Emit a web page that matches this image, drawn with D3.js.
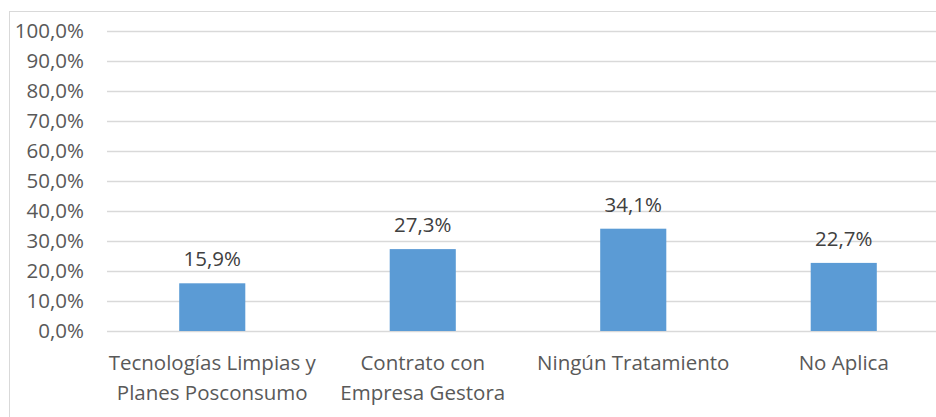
<!DOCTYPE html>
<html>
<head>
<meta charset="utf-8">
<script src="https://cdn.jsdelivr.net/npm/d3@7"></script>
<style>
  body { margin: 0; background: #fff; }
  svg { display: block; font-family: "Open Sans", sans-serif; }
</style>
</head>
<body>
<script>
// chart data
var categories = [
  ["Tecnologías Limpias y", "Planes Posconsumo"],
  ["Contrato con", "Empresa Gestora"],
  ["Ningún Tratamiento"],
  ["No Aplica"]
];
var values = [15.9, 27.3, 34.1, 22.7];
var yTicks = [0, 10, 20, 30, 40, 50, 60, 70, 80, 90, 100];

var svgWidth = 936, svgHeight = 417;
var margin = { top: 31, left: 107, bottom: 86 };
var plotRight = 949;
var fontSize = "20.5px";

var svg = d3.select("body").append("svg")
  .attr("width", svgWidth)
  .attr("height", svgHeight);

// outer border
svg.append("rect")
  .attr("x", 9.5).attr("y", 11.5)
  .attr("width", 1000).attr("height", 500)
  .attr("fill", "none")
  .attr("stroke", "#d9d9d9");

var x = d3.scaleBand()
  .domain(d3.range(categories.length))
  .range([margin.left, plotRight])
  .padding(0);

var y = d3.scaleLinear()
  .domain([0, 100])
  .range([svgHeight - margin.bottom, margin.top]);

var fmt = function (v) { return v.toFixed(1).replace(".", ",") + "%"; };

// gridlines
svg.append("g")
  .selectAll("line")
  .data(yTicks)
  .enter()
  .append("line")
    .attr("x1", margin.left)
    .attr("x2", plotRight)
    .attr("y1", function (d) { return Math.round(y(d)) + 0.5; })
    .attr("y2", function (d) { return Math.round(y(d)) + 0.5; })
    .attr("stroke", "#d9d9d9")
    .attr("stroke-width", 1.5);

// y axis labels
var yAxis = d3.axisLeft(y)
  .tickValues(yTicks)
  .tickSize(0)
  .tickPadding(0)
  .tickFormat(fmt);

var yg = svg.append("g")
  .attr("transform", "translate(84,0)")
  .call(yAxis);
yg.select(".domain").remove();
yg.selectAll("text")
  .attr("fill", "#595959")
  .style("font-size", fontSize)
  .style("font-family", "Open Sans");

// bars
var barW = x.bandwidth() * 0.314;
svg.append("g")
  .selectAll("rect")
  .data(values)
  .enter()
  .append("rect")
    .attr("x", function (d, i) { return x(i) + x.bandwidth() / 2 - barW / 2; })
    .attr("y", function (d) { return y(d); })
    .attr("width", barW)
    .attr("height", function (d) { return y(0) - y(d); })
    .attr("fill", "#5b9bd5");

// data labels
svg.append("g")
  .selectAll("text")
  .data(values)
  .enter()
  .append("text")
    .attr("x", function (d, i) { return x(i) + x.bandwidth() / 2; })
    .attr("y", function (d) { return y(d) - 17; })
    .attr("text-anchor", "middle")
    .attr("fill", "#404040")
    .style("font-size", fontSize)
    .text(fmt);

// category labels
var catG = svg.append("g")
  .selectAll("text")
  .data(categories)
  .enter()
  .append("text")
    .attr("text-anchor", "middle")
    .attr("fill", "#595959")
    .style("font-size", fontSize);

catG.selectAll("tspan")
  .data(function (d, i) { return d.map(function (t) { return { t: t, i: i }; }); })
  .enter()
  .append("tspan")
    .attr("x", function (d) { return x(d.i) + x.bandwidth() / 2; })
    .attr("y", function (d, j) { return 370 + j * 30; })
    .text(function (d) { return d.t; });
</script>
</body>
</html>
